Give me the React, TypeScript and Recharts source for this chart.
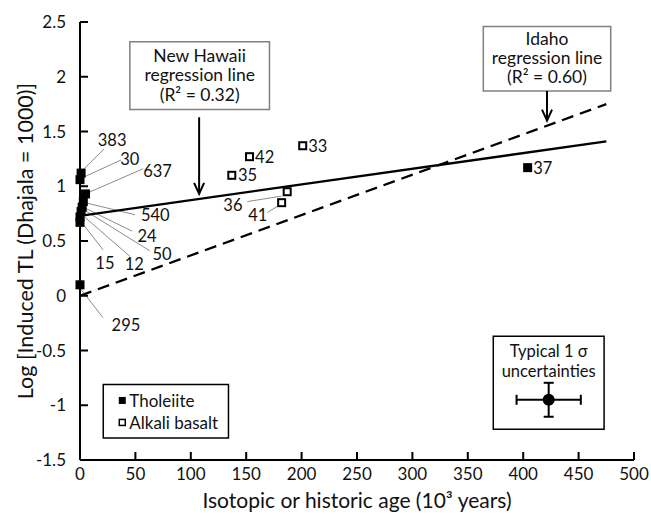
import React from "react";
import {
  ComposedChart,
  Scatter,
  XAxis,
  YAxis,
  ReferenceLine,
  ReferenceArea,
  ErrorBar,
} from "recharts";

const FONT = "Lato, 'Open Sans', sans-serif";
const INK = "#111";

// axes
const xTicks = [0, 50, 100, 150, 200, 250, 300, 350, 400, 450, 500];
const yTicks = [-1.5, -1, -0.5, 0, 0.5, 1, 1.5, 2, 2.5];

// samples: age (10^3 yr) vs log induced TL
const tholeiite = [
  { id: "383", x: 1, y: 1.12 },
  { id: "30", x: 0, y: 1.06 },
  { id: "637", x: 5, y: 0.93 },
  { id: "540", x: 3, y: 0.86 },
  { id: "24", x: 2, y: 0.81 },
  { id: "50", x: 1, y: 0.77 },
  { id: "12", x: 0, y: 0.72 },
  { id: "15", x: 0, y: 0.67 },
  { id: "295", x: 0, y: 0.1 },
  { id: "37", x: 404, y: 1.17 },
];

const alkali = [
  { id: "42", x: 153, y: 1.27 },
  { id: "35", x: 137, y: 1.1 },
  { id: "33", x: 201, y: 1.37 },
  { id: "36", x: 187, y: 0.95 },
  { id: "41", x: 182, y: 0.85 },
];

// regression lines
const hawaiiFit = [
  { x: 0, y: 0.73 },
  { x: 475, y: 1.41 },
];
const idahoFit = [
  { x: 0, y: 0.0 },
  { x: 475, y: 1.75 },
];

// typical 1 sigma
const sigma = [{ x: 423, y: -0.95, ex: 29, ey: 0.155 }];

// sample-number labels (data coords) and their leader lines
const pointLabels = [
  { text: "383", x: 29, y: 1.42, anchor: "middle" },
  { text: "30", x: 45, y: 1.25, anchor: "middle" },
  { text: "637", x: 70, y: 1.14, anchor: "middle" },
  { text: "540", x: 68, y: 0.74, anchor: "middle" },
  { text: "24", x: 60.5, y: 0.55, anchor: "middle" },
  { text: "50", x: 74, y: 0.38, anchor: "middle" },
  { text: "12", x: 49, y: 0.29, anchor: "middle" },
  { text: "15", x: 22.5, y: 0.3, anchor: "middle" },
  { text: "295", x: 41.5, y: -0.27, anchor: "middle" },
  { text: "42", x: 158, y: 1.27, anchor: "start" },
  { text: "35", x: 142.5, y: 1.1, anchor: "start" },
  { text: "33", x: 206, y: 1.37, anchor: "start" },
  { text: "36", x: 138, y: 0.83, anchor: "middle" },
  { text: "41", x: 160.5, y: 0.74, anchor: "middle" },
  { text: "37", x: 409, y: 1.17, anchor: "start" },
];

const leaders = [
  [2.7, 1.15, 21.7, 1.34],
  [2.7, 1.08, 37, 1.24],
  [7.2, 0.94, 57, 1.16],
  [4.5, 0.85, 49.6, 0.74],
  [2.7, 0.81, 47, 0.59],
  [2.7, 0.79, 63, 0.41],
  [1.8, 0.74, 45, 0.36],
  [0, 0.69, 20.8, 0.42],
  [0, 0.07, 20.8, -0.2],
  [151, 0.86, 182, 0.91],
  [169, 0.76, 180.5, 0.83],
];

const filledSquare = (p: any) => (
  <rect x={p.cx - 4.5} y={p.cy - 4.5} width={9} height={9} fill="#000" />
);
const openSquare = (p: any) => (
  <rect x={p.cx - 3.5} y={p.cy - 3.5} width={7} height={7} fill="#fff" stroke="#000" strokeWidth={2} />
);
const noDot = () => <g />;
const labelText = (p: any) => (
  <text
    x={p.cx}
    y={p.cy}
    textAnchor={p.payload.anchor}
    dominantBaseline="central"
    fontFamily={FONT}
    fontSize={16.5}
    fill={INK}
  >
    {p.payload.text}
  </text>
);

const arrow = (p: any) => {
  const { x1, y1, x2, y2 } = p;
  return (
    <g>
      <line x1={x1} y1={y1} x2={x2} y2={y2} stroke="#000" strokeWidth={2} />
      <polyline
        points={`${x2 - 5},${y2 - 11} ${x2},${y2} ${x2 + 5},${y2 - 11}`}
        fill="none"
        stroke="#000"
        strokeWidth={2}
      />
    </g>
  );
};

function boxText(lines: { t: string; dy: number }[], size = 17.5) {
  return (props: any) => {
    const vb = props.viewBox;
    return (
      <g>
        {lines.map((l) => (
          <text
            key={l.t}
            x={vb.x + vb.width / 2}
            y={vb.y + l.dy}
            textAnchor="middle"
            dominantBaseline="central"
            fontFamily={FONT}
            fontSize={size}
            fill={INK}
          >
            {l.t}
          </text>
        ))}
      </g>
    );
  };
}

const legendContent = (props: any) => {
  const vb = props.viewBox;
  const rows = [
    { t: "Tholeiite", dy: 16, open: false },
    { t: "Alkali basalt", dy: 38, open: true },
  ];
  return (
    <g>
      {rows.map((r) => (
        <g key={r.t}>
          {r.open ? (
            <rect x={vb.x + 16} y={vb.y + r.dy - 3} width={6} height={6} fill="#fff" stroke="#000" strokeWidth={1.5} />
          ) : (
            <rect x={vb.x + 15.5} y={vb.y + r.dy - 3.5} width={7} height={7} fill="#000" />
          )}
          <text
            x={vb.x + 26}
            y={vb.y + r.dy}
            dominantBaseline="central"
            fontFamily={FONT}
            fontSize={17}
            fill={INK}
          >
            {r.t}
          </text>
        </g>
      ))}
    </g>
  );
};

const tickStyle = { fontFamily: FONT, fontSize: 17, fill: INK };
const axisLine = { stroke: "#000", strokeWidth: 2 };

export default function App() {
  return (
    <div style={{ position: "absolute", left: 0, top: 0, width: 651, height: 521, background: "#fff" }}>
      <ComposedChart width={651} height={521} margin={{ top: 22, right: 17, bottom: 0, left: 0 }}>
        <XAxis
          xAxisId="top"
          orientation="top"
          type="number"
          domain={[0, 500]}
          height={0}
          tick={false}
          tickLine={false}
          axisLine={axisLine}
        />
        <YAxis
          yAxisId="right"
          orientation="right"
          type="number"
          domain={[-1.5, 2.5]}
          ticks={yTicks}
          width={0}
          tick={() => <g />}
          tickSize={-8}
          tickLine={axisLine}
          axisLine={axisLine}
        />
        <XAxis
          dataKey="x"
          type="number"
          domain={[0, 500]}
          ticks={xTicks}
          height={61}
          tickSize={-8}
          tickMargin={16}
          tick={tickStyle}
          tickLine={axisLine}
          axisLine={axisLine}
          label={{
            value: "Isotopic or historic age (10³ years)",
            position: "insideBottom",
            offset: 13,
            style: { fontFamily: FONT, fontSize: 21, fill: INK },
          }}
        />
        <YAxis
          dataKey="y"
          type="number"
          domain={[-1.5, 2.5]}
          ticks={yTicks}
          width={80}
          tickSize={-8}
          tickMargin={22}
          tick={tickStyle}
          tickLine={axisLine}
          axisLine={axisLine}
          label={{
            value: "Log [Induced TL (Dhajala = 1000)]",
            angle: -90,
            position: "insideLeft",
            offset: 25,
            style: { fontFamily: FONT, fontSize: 21.5, fill: INK, textAnchor: "middle" },
          }}
        />

        {leaders.map((l, i) => (
          <ReferenceLine
            key={i}
            segment={[
              { x: l[0], y: l[1] },
              { x: l[2], y: l[3] },
            ]}
            stroke="#8c8c8c"
            strokeWidth={1}
            ifOverflow="visible"
          />
        ))}

        <ReferenceArea
          x1={45}
          x2={171}
          y1={1.7}
          y2={2.32}
          fill="#fff"
          fillOpacity={1}
          stroke="#808080"
          strokeWidth={1.5}
          ifOverflow="visible"
          label={boxText([
            { t: "New Hawaii", dy: 14 },
            { t: "regression line", dy: 33 },
            { t: "(R² = 0.32)", dy: 53 },
          ])}
        />
        <ReferenceLine
          segment={[
            { x: 107.5, y: 1.63 },
            { x: 107.5, y: 0.93 },
          ]}
          shape={arrow}
          ifOverflow="visible"
        />
        <ReferenceArea
          x1={364}
          x2={479}
          y1={1.87}
          y2={2.46}
          fill="#fff"
          fillOpacity={1}
          stroke="#808080"
          strokeWidth={1.5}
          ifOverflow="visible"
          label={boxText([
            { t: "Idaho", dy: 12 },
            { t: "regression line", dy: 31 },
            { t: "(R² = 0.60)", dy: 50 },
          ])}
        />
        <ReferenceLine
          segment={[
            { x: 421.5, y: 1.87 },
            { x: 421.5, y: 1.6 },
          ]}
          shape={arrow}
          ifOverflow="visible"
        />
        <ReferenceArea
          x1={21}
          x2={134}
          y1={-0.81}
          y2={-1.3}
          fill="#fff"
          fillOpacity={1}
          stroke="#000"
          strokeWidth={1.5}
          ifOverflow="visible"
          label={legendContent}
        />
        <ReferenceArea
          x1={373}
          x2={473}
          y1={-0.37}
          y2={-1.22}
          fill="#fff"
          fillOpacity={1}
          stroke="#000"
          strokeWidth={1.5}
          ifOverflow="visible"
          label={boxText(
            [
              { t: "Typical 1 σ", dy: 15 },
              { t: "uncertainties", dy: 35 },
            ],
            16.5
          )}
        />

        <Scatter
          data={idahoFit}
          fill="#000"
          line={{ stroke: "#000", strokeWidth: 2.3, strokeDasharray: "12 7" }}
          shape={noDot}
          isAnimationActive={false}
        />
        <Scatter
          data={hawaiiFit}
          fill="#000"
          line={{ stroke: "#000", strokeWidth: 2.3 }}
          shape={noDot}
          isAnimationActive={false}
        />
        <Scatter data={tholeiite} shape={filledSquare} isAnimationActive={false} />
        <Scatter data={alkali} shape={openSquare} isAnimationActive={false} />
        <Scatter data={pointLabels} shape={labelText} isAnimationActive={false} />
        <Scatter
          data={sigma}
          shape={(p: any) => <circle cx={p.cx} cy={p.cy} r={6} fill="#000" />}
          isAnimationActive={false}
        >
          <ErrorBar dataKey="ex" direction="x" width={5} stroke="#000" strokeWidth={2} />
          <ErrorBar dataKey="ey" direction="y" width={5} stroke="#000" strokeWidth={2} />
        </Scatter>
      </ComposedChart>
    </div>
  );
}
